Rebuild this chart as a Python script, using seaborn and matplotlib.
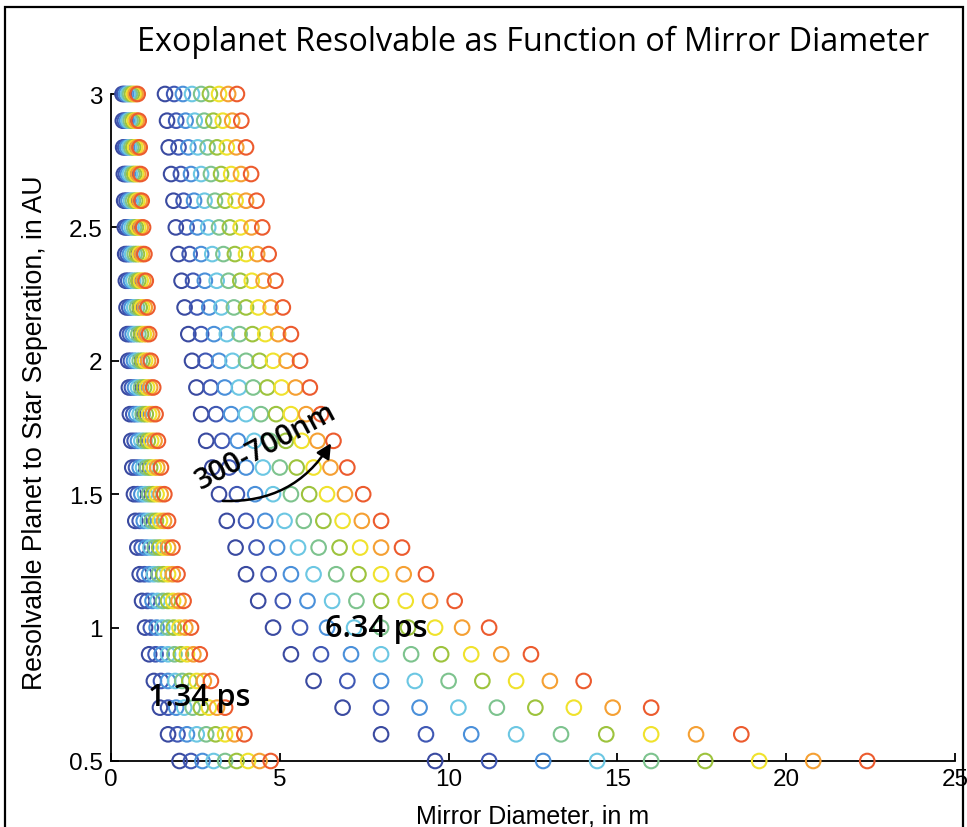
import numpy as np
import pandas as pd
import matplotlib
matplotlib.use("Agg")
import matplotlib.pyplot as plt
import seaborn as sns
from matplotlib.patches import Rectangle

# ========== Data ==========
separation_au = [0.5, 0.6, 0.7, 0.8, 0.9, 1.0, 1.1, 1.2, 1.3, 1.4, 1.5, 1.6, 1.7,
                 1.8, 1.9, 2.0, 2.1, 2.2, 2.3, 2.4, 2.5, 2.6, 2.7, 2.8, 2.9, 3.0]
wavelength_nm = [300, 350, 400, 450, 500, 550, 600, 650, 700]
wl_colors = ["#3a4aa0", "#4058b4", "#4a90da", "#6cc7e3", "#7dc38e",
             "#9dc33d", "#f0e22c", "#f5a033", "#ec5b2e"]

# mirror diameter (m) per separation row, one column per wavelength
diam_134ps = [
    [2.03, 2.37, 2.71, 3.04, 3.38, 3.72, 4.06, 4.40, 4.73],
    [1.69, 1.97, 2.25, 2.54, 2.82, 3.10, 3.38, 3.66, 3.95],
    [1.45, 1.69, 1.93, 2.17, 2.42, 2.66, 2.90, 3.14, 3.38],
    [1.27, 1.48, 1.69, 1.90, 2.11, 2.32, 2.54, 2.75, 2.96],
    [1.13, 1.32, 1.50, 1.69, 1.88, 2.07, 2.25, 2.44, 2.63],
    [1.01, 1.18, 1.35, 1.52, 1.69, 1.86, 2.03, 2.20, 2.37],
    [0.92, 1.08, 1.23, 1.38, 1.54, 1.69, 1.84, 2.00, 2.15],
    [0.85, 0.99, 1.13, 1.27, 1.41, 1.55, 1.69, 1.83, 1.97],
    [0.78, 0.91, 1.04, 1.17, 1.30, 1.43, 1.56, 1.69, 1.82],
    [0.72, 0.85, 0.97, 1.09, 1.21, 1.33, 1.45, 1.57, 1.69],
    [0.68, 0.79, 0.90, 1.01, 1.13, 1.24, 1.35, 1.47, 1.58],
    [0.63, 0.74, 0.85, 0.95, 1.06, 1.16, 1.27, 1.37, 1.48],
    [0.60, 0.70, 0.80, 0.90, 0.99, 1.09, 1.19, 1.29, 1.39],
    [0.56, 0.66, 0.75, 0.85, 0.94, 1.03, 1.13, 1.22, 1.32],
    [0.53, 0.62, 0.71, 0.80, 0.89, 0.98, 1.07, 1.16, 1.25],
    [0.51, 0.59, 0.68, 0.76, 0.85, 0.93, 1.01, 1.10, 1.18],
    [0.48, 0.56, 0.64, 0.72, 0.81, 0.89, 0.97, 1.05, 1.13],
    [0.46, 0.54, 0.61, 0.69, 0.77, 0.85, 0.92, 1.00, 1.08],
    [0.44, 0.51, 0.59, 0.66, 0.74, 0.81, 0.88, 0.96, 1.03],
    [0.42, 0.49, 0.56, 0.63, 0.70, 0.77, 0.85, 0.92, 0.99],
    [0.41, 0.47, 0.54, 0.61, 0.68, 0.74, 0.81, 0.88, 0.95],
    [0.39, 0.46, 0.52, 0.59, 0.65, 0.72, 0.78, 0.85, 0.91],
    [0.38, 0.44, 0.50, 0.56, 0.63, 0.69, 0.75, 0.81, 0.88],
    [0.36, 0.42, 0.48, 0.54, 0.60, 0.66, 0.72, 0.79, 0.85],
    [0.35, 0.41, 0.47, 0.52, 0.58, 0.64, 0.70, 0.76, 0.82],
    [0.34, 0.39, 0.45, 0.51, 0.56, 0.62, 0.68, 0.73, 0.79],
]

diam_634ps = [
    [9.60, 11.20, 12.80, 14.40, 16.00, 17.60, 19.20, 20.80, 22.40],
    [8.00, 9.33, 10.67, 12.00, 13.33, 14.67, 16.00, 17.33, 18.67],
    [6.86, 8.00, 9.14, 10.29, 11.43, 12.57, 13.71, 14.86, 16.00],
    [6.00, 7.00, 8.00, 9.00, 10.00, 11.00, 12.00, 13.00, 14.00],
    [5.33, 6.22, 7.11, 8.00, 8.89, 9.78, 10.67, 11.56, 12.44],
    [4.80, 5.60, 6.40, 7.20, 8.00, 8.80, 9.60, 10.40, 11.20],
    [4.36, 5.09, 5.82, 6.55, 7.27, 8.00, 8.73, 9.45, 10.18],
    [4.00, 4.67, 5.33, 6.00, 6.67, 7.33, 8.00, 8.67, 9.33],
    [3.69, 4.31, 4.92, 5.54, 6.15, 6.77, 7.38, 8.00, 8.62],
    [3.43, 4.00, 4.57, 5.14, 5.71, 6.29, 6.86, 7.43, 8.00],
    [3.20, 3.73, 4.27, 4.80, 5.33, 5.87, 6.40, 6.93, 7.47],
    [3.00, 3.50, 4.00, 4.50, 5.00, 5.50, 6.00, 6.50, 7.00],
    [2.82, 3.29, 3.76, 4.24, 4.71, 5.18, 5.65, 6.12, 6.59],
    [2.67, 3.11, 3.56, 4.00, 4.44, 4.89, 5.33, 5.78, 6.22],
    [2.53, 2.95, 3.37, 3.79, 4.21, 4.63, 5.05, 5.47, 5.89],
    [2.40, 2.80, 3.20, 3.60, 4.00, 4.40, 4.80, 5.20, 5.60],
    [2.29, 2.67, 3.05, 3.43, 3.81, 4.19, 4.57, 4.95, 5.33],
    [2.18, 2.55, 2.91, 3.27, 3.64, 4.00, 4.36, 4.73, 5.09],
    [2.09, 2.43, 2.78, 3.13, 3.48, 3.83, 4.17, 4.52, 4.87],
    [2.00, 2.33, 2.67, 3.00, 3.33, 3.67, 4.00, 4.33, 4.67],
    [1.92, 2.24, 2.56, 2.88, 3.20, 3.52, 3.84, 4.16, 4.48],
    [1.85, 2.15, 2.46, 2.77, 3.08, 3.38, 3.69, 4.00, 4.31],
    [1.78, 2.07, 2.37, 2.67, 2.96, 3.26, 3.56, 3.85, 4.15],
    [1.71, 2.00, 2.29, 2.57, 2.86, 3.14, 3.43, 3.71, 4.00],
    [1.66, 1.93, 2.21, 2.48, 2.76, 3.03, 3.31, 3.59, 3.86],
    [1.60, 1.87, 2.13, 2.40, 2.67, 2.93, 3.20, 3.47, 3.73],
]

x_ticks = [0, 5, 10, 15, 20, 25]
y_ticks = [0.5, 1, 1.5, 2, 2.5, 3]
y_tick_labels = ["0.5", "1", "1.5", "2", "2.5", "3"]

# ========== Build long table ==========
rows = []
for pulse, table in [("1.34 ps", diam_134ps), ("6.34 ps", diam_634ps)]:
    for sep, diams in zip(separation_au, table):
        for wl, d in zip(wavelength_nm, diams):
            rows.append({"pulse": pulse, "separation": sep, "wavelength": wl, "diameter": d})
df = pd.DataFrame(rows)

# ========== Plot ==========
sns.set_style("ticks")
plt.rcParams['font.family'] = ['Liberation Sans', 'DejaVu Sans']
plt.rcParams['text.color'] = 'black'
plt.rcParams['axes.labelcolor'] = 'black'

W, H = 967, 828
fig = plt.figure(figsize=(W / 100, H / 100), dpi=100)
ax = fig.add_axes([111 / W, 1 - 762 / H, (955 - 111) / W, (762 - 95) / H])

sns.scatterplot(data=df, x="diameter", y="separation", hue="wavelength",
                palette=wl_colors, s=110, marker="o", legend=False,
                clip_on=False, ax=ax, zorder=3)

# hollow circles, MATLAB style
coll = ax.collections[0]
fc = coll.get_facecolors()
coll.set_edgecolors(fc)
coll.set_facecolors("none")
coll.set_linewidths(1.5)

ax.set_xlim(0, 25)
ax.set_ylim(0.5, 3)
ax.set_xticks(x_ticks)
ax.set_yticks(y_ticks)
ax.set_yticklabels(y_tick_labels)
ax.tick_params(direction="in", length=6, width=1.3, labelsize=17.5, colors="black")
ax.tick_params(axis="x", pad=5)
ax.tick_params(axis="y", pad=6)
sns.despine(ax=ax)
for sp in ["left", "bottom"]:
    ax.spines[sp].set_linewidth(1.3)
    ax.spines[sp].set_color("black")

ax.set_xlabel("Mirror Diameter, in m", fontsize=18)
ax.set_ylabel("Resolvable Planet to Star Seperation, in AU", fontsize=19.2)
ax.xaxis.set_label_coords(0.5, -0.064)
ax.yaxis.set_label_coords(-0.075, 0.493)
ax.set_title("Exoplanet Resolvable as Function of Mirror Diameter",
             fontsize=23.3, family="Open Sans", color="black", pad=32)

# annotations
ax.text(7.86, 1.0, "6.34 ps", fontsize=22, family="Open Sans", fontweight="semibold",
        ha="center", va="center", zorder=5)
ax.text(2.62, 0.74, "1.34 ps", fontsize=22, family="Open Sans", fontweight="semibold",
        ha="center", va="center", zorder=5)
ax.text(4.6, 1.68, "300-700nm", fontsize=21, family="Open Sans", fontweight="semibold",
        rotation=28, ha="center", va="center", zorder=5)
ax.annotate("", xy=(6.56, 1.70), xytext=(3.23, 1.475),
            arrowprops=dict(arrowstyle="-|>", color="black", lw=1.8,
                            connectionstyle="arc3,rad=0.3", mutation_scale=22),
            zorder=5)

# figure frame
fig.patches.append(Rectangle((5 / W, -0.05), (963 - 5) / W, 1.05 - 8 / H,
                             transform=fig.transFigure, fill=False,
                             edgecolor="black", linewidth=1.6))

fig.savefig("out.png", dpi=100)
